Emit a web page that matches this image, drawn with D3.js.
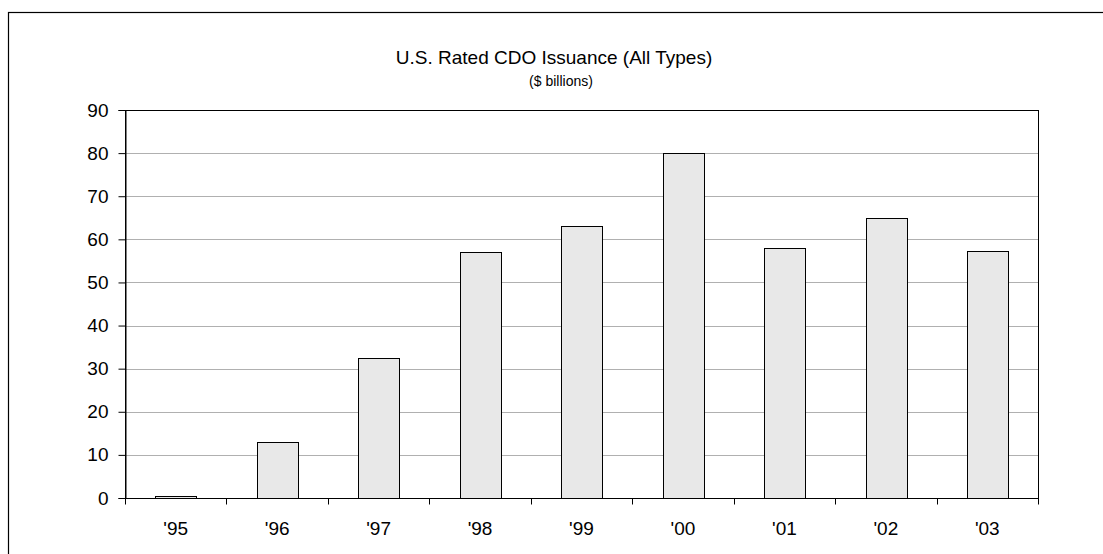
<!DOCTYPE html>
<html>
<head>
<meta charset="utf-8">
<script src="https://cdn.jsdelivr.net/npm/d3@7"></script>
<style>
  body { margin: 0; background: #fff; }
  text { font-family: "Liberation Sans", Arial, sans-serif; fill: #000; }
</style>
</head>
<body>
<svg class="chart"></svg>
<script>
var years = ["'95", "'96", "'97", "'98", "'99", "'00", "'01", "'02", "'03"];
var issuance = [0.5, 13, 32.5, 57, 63, 80, 58, 65, 57.2];
var yTicks = [0, 10, 20, 30, 40, 50, 60, 70, 80, 90];

var W = 1103, H = 554;
var margin = { top: 110, right: 65, bottom: 56, left: 125 };
var width = W - margin.left - margin.right;
var height = H - margin.top - margin.bottom;

var svg = d3.select('.chart').attr('width', W).attr('height', H);

// outer frame
svg.append('rect')
  .attr('x', 8.5).attr('y', 12.5)
  .attr('width', 1110).attr('height', 560)
  .attr('fill', 'none').attr('stroke', '#000').attr('stroke-width', 1.2);

svg.append('text')
  .attr('x', 554).attr('y', 64)
  .attr('text-anchor', 'middle')
  .style('font-size', '19px')
  .text('U.S. Rated CDO Issuance (All Types)');

svg.append('text')
  .attr('x', 561).attr('y', 86)
  .attr('text-anchor', 'middle')
  .style('font-size', '14px')
  .text('($ billions)');

var chart = svg.append('g')
  .attr('transform', 'translate(' + margin.left + ',' + margin.top + ')');

var x = d3.scaleBand().domain(years).range([0, width]).paddingInner(0.6).paddingOuter(0.3);
var xb = d3.scaleBand().domain(years).range([0, width]);
var y = d3.scaleLinear().domain([0, 90]).range([height, 0]);

// gridlines
chart.selectAll('.grid')
  .data(yTicks.filter(d => d > 0 && d < 90))
  .enter().append('line')
  .attr('x1', 0).attr('x2', width)
  .attr('y1', d => Math.round(y(d)) + 0.5).attr('y2', d => Math.round(y(d)) + 0.5)
  .attr('stroke', '#b0b0b0').attr('stroke-width', 1);

// plot frame
chart.append('rect')
  .attr('x', 0.5).attr('y', 0.5)
  .attr('width', width).attr('height', height)
  .attr('fill', 'none').attr('stroke', '#000').attr('stroke-width', 1);

chart.selectAll('.bar')
  .data(issuance)
  .enter().append('rect')
  .attr('class', 'bar')
  .attr('x', (d, i) => Math.round(x(years[i])) + 0.5)
  .attr('y', d => Math.round(y(d)) + 0.5)
  .attr('width', Math.round(x.bandwidth()))
  .attr('height', d => Math.round(height - y(d)))
  .attr('fill', '#e8e8e8')
  .attr('stroke', '#000')
  .attr('stroke-width', 1);

// y axis
var yAxis = d3.axisLeft(y).tickValues(yTicks).tickSize(7).tickPadding(10);
var gy = chart.append('g').attr('transform', 'translate(0.5,0)').call(yAxis);
gy.select('.domain').attr('stroke', '#000');
gy.selectAll('.tick line').attr('stroke', '#000');
gy.selectAll('.tick text')
  .attr('x', -17)
  .style('font-size', '19px')
  .style('font-family', '"Liberation Sans", Arial, sans-serif');

// x axis: ticks at category boundaries
var boundaries = years.map(d => xb(d)).concat([width]);
var gx = chart.append('g').attr('transform', 'translate(0,' + (height + 0.5) + ')');
gx.append('line').attr('x1', 0).attr('x2', width + 1).attr('stroke', '#000');
gx.selectAll('.xt')
  .data(boundaries)
  .enter().append('line')
  .attr('x1', d => Math.round(d) + 0.5).attr('x2', d => Math.round(d) + 0.5)
  .attr('y1', 0).attr('y2', 6)
  .attr('stroke', '#000');
gx.selectAll('.xl')
  .data(years)
  .enter().append('text')
  .attr('x', d => xb(d) + xb.bandwidth() / 2)
  .attr('y', 36)
  .attr('text-anchor', 'middle')
  .style('font-size', '19px')
  .text(d => d);
</script>
</body>
</html>
